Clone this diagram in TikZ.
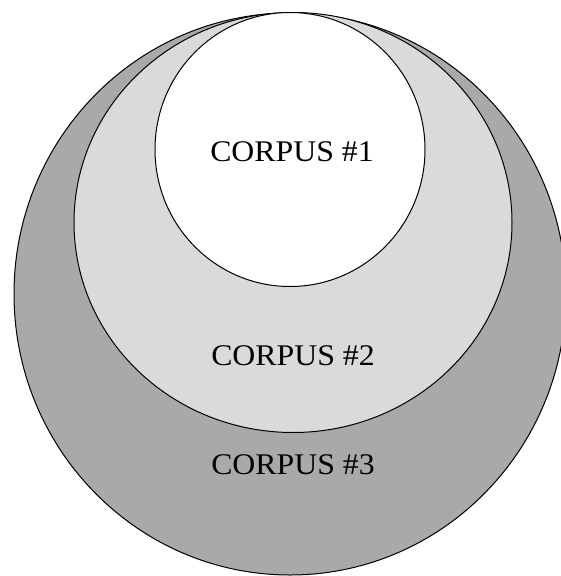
\documentclass[tikz,border=0pt]{standalone}
\usepackage{fontspec}
\setmainfont{Liberation Serif}
\usepackage{tikz}

\begin{document}
\begin{tikzpicture}[
    x=1pt, y=-1pt,
    setstyle/.style={draw=black, line width=1pt},
    labelstyle/.style={font=\fontsize{30}{33}\selectfont, inner sep=0pt, xscale=1.06}
]
\useasboundingbox (0,0) rectangle (561,576);
\clip (0,0) rectangle (561,576);

\fill[white] (0,0) rectangle (561,576);

% nested corpora, all touching at the top
\filldraw[setstyle, fill={rgb,255:red,169;green,169;blue,169}] (290,294) ellipse [x radius=276, y radius=281];
\filldraw[setstyle, fill={rgb,255:red,218;green,218;blue,218}] (293,222.5) ellipse [x radius=219, y radius=210];
\filldraw[setstyle, fill=white] (290,149.5) ellipse [x radius=135, y radius=137];

\node[labelstyle] (c1) at (292,152) {CORPUS \#1};
\node[labelstyle] (c2) at (293,356) {CORPUS \#2};
\node[labelstyle] (c3) at (293,465) {CORPUS \#3};

\end{tikzpicture}
\end{document}
